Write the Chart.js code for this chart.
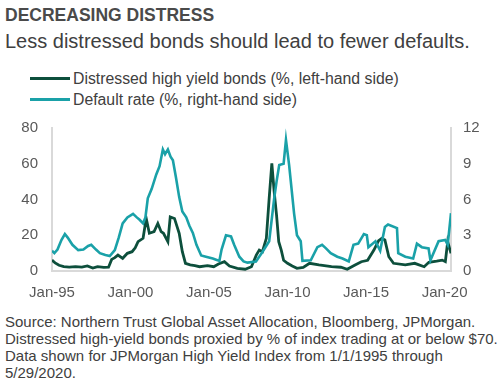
<!DOCTYPE html>
<html>
<head>
<meta charset="utf-8">
<script src="https://cdn.jsdelivr.net/npm/chart.js@4"></script>
<style>
  body { margin: 0; background: #fff; font-family: "Liberation Sans", Arial, sans-serif; color: #404040; }
  #wrap { position: relative; width: 500px; height: 384px; overflow: hidden; }
  .title { position: absolute; left: 5px; top: 5px; font-size: 17.5px; font-weight: bold; color: #4a4a4a; }
  .sub { position: absolute; left: 5px; top: 30px; font-size: 20px; color: #404040; }
  .leg { position: absolute; left: 30px; font-size: 15.8px; color: #404040; white-space: nowrap; }
  .leg span { display: inline-block; width: 40px; height: 3px; vertical-align: middle; margin-right: 3px; position: relative; top: -1px; }
  #chartBox { position: absolute; left: 0; top: 105px; width: 500px; height: 200px; }
  .note { position: absolute; left: 5px; top: 313px; font-size: 15px; line-height: 17px; color: #404040; white-space: nowrap; }
</style>
</head>
<body>
<div id="wrap">
  <div class="title">DECREASING DISTRESS</div>
  <div class="sub">Less distressed bonds should lead to fewer defaults.</div>
  <div class="leg" style="top: 70px"><span style="background:#0d4f3c"></span>Distressed high yield bonds (%, left-hand side)</div>
  <div class="leg" style="top: 91px"><span style="background:#1aa1a8"></span>Default rate (%, right-hand side)</div>
  <div id="chartBox"><canvas id="chart" width="500" height="200"></canvas></div>
  <div class="note">Source: Northern Trust Global Asset Allocation, Bloomberg, JPMorgan.<br>Distressed high-yield bonds proxied by % of index trading at or below $70.<br>Data shown for JPMorgan High Yield Index from 1/1/1995 through<br>5/29/2020.</div>
</div>
<script>
//? x positions are decimal years (1995.5 = mid 1995)
//? Distressed high yield bonds, % of index (left axis)
const distressedDates = [
  1995.0, 1995.2, 1995.45, 1995.75, 1996.1, 1996.5, 1996.9, 1997.25, 1997.6, 1997.9,
  1998.3, 1998.6, 1998.8, 1999.0, 1999.2, 1999.5, 1999.8, 2000.1, 2000.3, 2000.48,
  2000.8, 2001.0, 2001.2, 2001.5, 2001.74, 2001.95, 2002.1, 2002.38, 2002.53, 2002.8,
  2003.1, 2003.3, 2003.5, 2003.8, 2004.1, 2004.4, 2004.9, 2005.3, 2005.6, 2005.98,
  2006.3, 2006.8, 2007.3, 2007.7, 2008.01, 2008.2, 2008.4, 2008.65, 2008.83, 2009.0,
  2009.15, 2009.3, 2009.44, 2009.6, 2009.75, 2010.0, 2010.3, 2010.6, 2011.0, 2011.4,
  2012.0, 2012.8, 2013.4, 2013.8, 2014.3, 2014.7, 2015.1, 2015.5, 2015.8, 2016.0,
  2016.2, 2016.45, 2016.75, 2017.5, 2018.1, 2018.7, 2019.0, 2019.5, 2019.85, 2020.05,
  2020.2, 2020.41
]
const distressedValues = [
  6.1, 4.5, 3.2, 2.4, 2.2, 2.5, 2.2, 2.8, 1.6, 2.4,
  2.0, 2.1, 6.5, 7.5, 8.9, 7.1, 9.9, 10.8, 13.0, 16.4,
  18.3, 29.4, 21.1, 22.0, 26.6, 22.0, 21.1, 16.4, 30.3, 29.4,
  21.1, 10.8, 4.3, 3.4, 3.0, 2.4, 3.0, 2.4, 3.9, 5.2,
  2.8, 1.5, 1.0, 2.4, 8.9, 11.7, 10.8, 18.3, 40.6, 60.2,
  44.3, 31.3, 16.4, 11.7, 6.0, 4.3, 2.8, 1.5, 2.0, 4.3,
  3.4, 2.4, 2.1, 0.95, 3.4, 5.2, 6.0, 11.7, 17.0, 18.3,
  17.4, 8.0, 4.3, 3.4, 4.3, 2.4, 4.9, 5.5, 6.1, 5.2,
  16.4, 9.9
]

//? Default rate, % (right axis)
const defaultDates = [
  1995.0, 1995.15, 1995.35, 1995.6, 1995.82, 1996.0, 1996.3, 1996.67, 1997.0, 1997.3,
  1997.5, 1997.8, 1998.05, 1998.4, 1998.68, 1999.0, 1999.25, 1999.5, 1999.8, 2000.16,
  2000.4, 2000.58, 2000.8, 2000.95, 2001.1, 2001.35, 2001.64, 2001.85, 2002.06, 2002.2,
  2002.38, 2002.55, 2002.7, 2002.9, 2003.1, 2003.3, 2003.55, 2003.75, 2003.97, 2004.2,
  2004.5, 2004.8, 2005.24, 2005.45, 2005.66, 2005.8, 2006.08, 2006.4, 2006.6, 2006.93,
  2007.2, 2007.45, 2007.99, 2008.4, 2008.83, 2009.15, 2009.3, 2009.47, 2009.75, 2009.9,
  2010.1, 2010.42, 2010.6, 2010.84, 2010.95, 2011.48, 2011.9, 2012.2, 2012.45, 2012.75,
  2013.17, 2013.5, 2013.9, 2014.2, 2014.5, 2014.86, 2015.05, 2015.15, 2015.6, 2015.9,
  2016.2, 2016.4, 2016.97, 2017.05, 2017.5, 2018.0, 2018.24, 2018.55, 2018.98, 2019.1,
  2019.62, 2020.04, 2020.2, 2020.41
]
const defaultValues = [
  1.7, 1.5, 1.8, 2.6, 3.1, 2.8, 2.2, 1.75, 1.8, 2.1,
  2.2, 1.8, 1.5, 1.35, 1.25, 1.75, 2.8, 4.0, 4.5, 4.8,
  4.5, 4.3, 4.0, 4.5, 6.1, 6.9, 8.1, 8.8, 10.2, 9.8,
  10.2, 9.6, 9.3, 7.8, 6.2, 5.0, 4.5, 3.8, 3.2, 2.2,
  1.3, 1.2, 1.05, 0.95, 0.85, 1.8, 3.0, 2.9, 2.2, 1.2,
  0.8, 0.7, 0.8, 1.6, 2.5, 6.1, 7.5, 8.9, 9.0, 11.0,
  8.9, 4.8, 3.0, 2.5, 0.85, 0.9, 2.0, 2.2, 1.9, 1.5,
  1.2, 1.05, 0.8, 2.2, 2.3, 3.1, 3.0, 2.0, 2.5, 1.7,
  3.7, 3.9, 3.6, 1.5, 1.2, 1.05, 2.3, 2.0, 1.9, 0.9,
  2.5, 2.6, 2.2, 4.85
]

//? Axis ticks
const yearTicks = [1995, 2000, 2005, 2010, 2015, 2020]
const yearTickLabels = ['Jan-95', 'Jan-00', 'Jan-05', 'Jan-10', 'Jan-15', 'Jan-20']
const leftTicks = [0, 20, 40, 60, 80]
const rightTicks = [0, 3, 6, 9, 12]

const tickFont = { family: 'Liberation Sans', size: 15 }
const tickColor = '#595959'
const axisLine = { display: true, color: '#d9d9d9', width: 2 }

function toPoints(dates, values) {
  return dates.map((d, i) => ({ x: d, y: values[i] }))
}

let ctx = document.getElementById('chart').getContext('2d')

// chart area ends up at 23px from canvas top (label padding), so canvas sits at 105
chart = new Chart(ctx, {
  type: 'line',
  data: {
    datasets: [
      {
        label: 'Default rate (%, right-hand side)',
        data: toPoints(defaultDates, defaultValues),
        yAxisID: 'y1',
        borderColor: '#1aa1a8',
        backgroundColor: '#1aa1a8',
        borderWidth: 2.6,
        pointRadius: 0,
        tension: 0,
      },
      {
        label: 'Distressed high yield bonds (%, left-hand side)',
        data: toPoints(distressedDates, distressedValues),
        yAxisID: 'y',
        borderColor: '#0d4f3c',
        backgroundColor: '#0d4f3c',
        borderWidth: 2.8,
        pointRadius: 0,
        tension: 0,
      },
    ],
  },
  options: {
    responsive: false,
    animation: false,
    layout: { padding: { top: 4, left: 0, right: 0, bottom: 0 } },
    plugins: { legend: { display: false }, tooltip: { enabled: false } },
    scales: {
      x: {
        type: 'linear',
        min: 1995,
        max: 2020.41,
        grid: { display: false, drawTicks: false },
        border: axisLine,
        afterBuildTicks: (scale) => { scale.ticks = yearTicks.map(v => ({ value: v })) },
        afterFit: (scale) => { scale.height = 34 },
        ticks: {
          autoSkip: false,
          maxRotation: 0,
          padding: 13,
          font: tickFont,
          color: tickColor,
          callback: (v) => yearTickLabels[yearTicks.indexOf(v)],
        },
      },
      y: {
        position: 'left',
        min: 0,
        max: 80,
        grid: { display: false, drawTicks: false },
        border: axisLine,
        afterBuildTicks: (scale) => { scale.ticks = leftTicks.map(v => ({ value: v })) },
        afterFit: (scale) => { scale.width = 52 },
        ticks: { padding: 14, font: tickFont, color: tickColor },
      },
      y1: {
        position: 'right',
        min: 0,
        max: 12,
        grid: { display: false, drawTicks: false },
        border: axisLine,
        afterBuildTicks: (scale) => { scale.ticks = rightTicks.map(v => ({ value: v })) },
        afterFit: (scale) => { scale.width = 49 },
        ticks: { padding: 12, font: tickFont, color: tickColor },
      },
    },
  },
})
</script>
</body>
</html>
